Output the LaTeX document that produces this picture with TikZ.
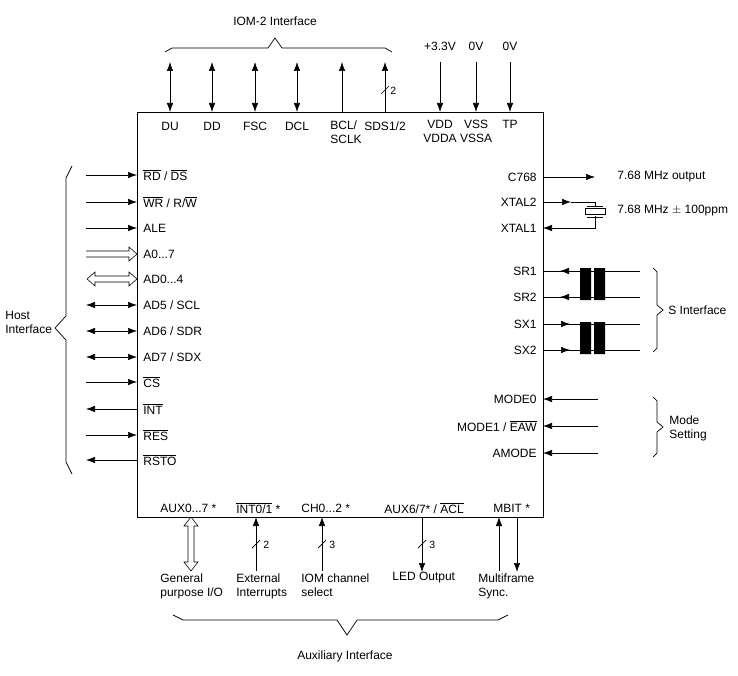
\documentclass[tikz,border=0pt]{standalone}
\usepackage{fontspec}
\setmainfont{Liberation Sans}
\usetikzlibrary{arrows.meta}
\newcommand{\olb}[1]{$\overline{\mbox{#1}}$}
\begin{document}
\begin{tikzpicture}[x=1pt,y=-1pt,
  every node/.style={font=\fontsize{12}{14}\selectfont,inner sep=0pt},
  tip/.style={-{Latex[length=9pt,width=6.5pt]}},
  tipb/.style={{Latex[length=9pt,width=6.5pt]}-{Latex[length=9pt,width=6.5pt]}},
  lab/.style={anchor=west},
  line width=0.7pt]
\useasboundingbox (0,0) rectangle (738,676);
% main box
\draw (137,112) rectangle (543,517);
% ---------- left (host) ----------
\foreach \y/\t/\k in {175/{\olb{RD} / \olb{DS}}/in, 202/{\olb{WR} / R/\olb{W}}/in, 228/ALE/in,
   305/{AD5 / SCL}/bi, 331/{AD6 / SDR}/bi, 357/{AD7 / SDX}/bi, 382/\olb{CS}/in, 409/\olb{INT}/out,
   435/\olb{RES}/in, 460/\olb{RSTO}/out}{
  \coordinate (L\y) at (86,\y); \coordinate (P\y) at (137,\y);
  \node[lab] (n\y) at (143,\y) {\t};
  \ifnum\pdfstrcmp{\k}{in}=0 \draw[tip] (L\y) -- (P\y);\fi
  \ifnum\pdfstrcmp{\k}{out}=0 \draw[tip] (P\y) -- (L\y);\fi
  \ifnum\pdfstrcmp{\k}{bi}=0 \draw[tipb] (L\y) -- (P\y);\fi
}
\node[lab] (a07) at (143,254) {A0...7};
\draw[line width=0.6pt] (86,251) -- (129,251) -- (129,247) -- (137,254) -- (129,261) -- (129,257) -- (86,257);
\node[lab] (ad04) at (143,279) {AD0...4};
\draw[line width=0.6pt] (95,276) -- (129,276) -- (129,272) -- (137,279) -- (129,286) -- (129,282) -- (95,282) -- (95,286) -- (87,279) -- (95,272) -- cycle;
\draw (72,166) -- (66,178) -- (66,316) -- (55,328) -- (66,340) -- (66,462) -- (72,474);
\node[anchor=west,align=left] (host) at (5,322) {Host\\Interface};
% ---------- top ----------
\foreach \x/\t/\k in {170/DU/bi, 212/DD/bi, 255/FSC/bi, 297/DCL/bi, 385/{SDS1/2}/up}{
  \coordinate (T\x) at (\x,62); \coordinate (B\x) at (\x,112);
  \node (t\x) at (\x,126) {\t};
  \ifnum\pdfstrcmp{\k}{bi}=0 \draw[tipb] (T\x) -- (B\x);\fi
  \ifnum\pdfstrcmp{\k}{up}=0 \draw[tip] (B\x) -- (T\x);\fi
}
\coordinate (T342) at (342,62); \coordinate (B342) at (342,112);
\draw[tip] (B342) -- (T342);
\node[anchor=north west,align=left] (bcl) at (330,120) {BCL/\\SCLK};
\draw (381,94) -- (389,86);
\node[lab,font=\fontsize{10.5}{12}\selectfont] (n2t) at (390,91) {2};
\foreach \x/\v/\t in {440/+3.3V/VDD\\VDDA, 476/0V/VSS\\VSSA, 510/0V/TP}{
  \coordinate (S\x) at (\x,62); \coordinate (E\x) at (\x,112);
  \draw[tip] (S\x) -- (E\x);
  \node (v\x) at (\x,46) {\v};
  \node[anchor=north,align=center] (p\x) at (\x,120) {\t};
}
\draw (165,52) -- (172,48) -- (268,48) -- (275,38) -- (282,48) -- (385,48) -- (392,52);
\node (iom) at (275,21) {IOM-2 Interface};
% ---------- right ----------
\node[anchor=east] (c768) at (537,177) {C768};
\coordinate (c768e) at (595,177);
\draw[tip] (543,177) -- (c768e);
\node[lab] (o768) at (617,177) {7.68 MHz output};
\node[anchor=east] (x2) at (537,202) {XTAL2};
\node[anchor=east] (x1) at (537,228) {XTAL1};
\draw[tip] (543,202) -- (571,202);
\draw (571,202) -- (595,202) -- (595,207);
\draw (595,216) -- (595,228) -- (571,228);
\draw[tip] (575,228) -- (543,228);
\draw[fill=white,line width=0.6pt] (585,208.5) rectangle (605,214.5);
\draw[line width=0.6pt] (587,206) -- (603,206) (587,217) -- (603,217);
\node[lab] (xt) at (617,211) {7.68 MHz $\pm$ 100ppm};
\foreach \y/\t/\k in {271/SR1/in, 297/SR2/in, 324/SX1/out, 350/SX2/out}{
  \node[anchor=east] (r\y) at (537,\y) {\t};
  \coordinate (R\y) at (640,\y);
  \draw (R\y) -- (543,\y);
  \ifnum\pdfstrcmp{\k}{in}=0 \draw[tip] (575,\y) -- (560,\y);\fi
  \ifnum\pdfstrcmp{\k}{out}=0 \draw[tip] (555,\y) -- (570,\y);\fi
}
\fill (580,268) rectangle (591,300) (594,268) rectangle (605,300);
\fill (580,322) rectangle (591,354) (594,322) rectangle (605,354);
\draw (653,268) -- (657,272) -- (657,305) -- (663,310) -- (657,315) -- (657,348) -- (653,352);
\node[lab] (si) at (668,310) {S Interface};
\foreach \y/\t in {399/MODE0, 426/{MODE1 / \olb{EAW}}, 453/AMODE}{
  \node[anchor=east] (m\y) at (537,\y) {\t};
  \coordinate (M\y) at (598,\y);
  \draw[tip] (M\y) -- (543,\y);
}
\draw (653,397) -- (657,401) -- (657,422) -- (663,427) -- (657,432) -- (657,453) -- (653,457);
\node[anchor=west,align=left] (ms) at (669,428) {Mode\\Setting};
% ---------- bottom ----------
\node[lab] (ax) at (160,508) {AUX0...7 *};
\node[lab] (in01) at (236,508) {\olb{INT0/1} *};
\node[lab] (ch) at (301,508) {CH0...2 *};
\node[lab] (a67) at (384,508) {AUX6/7* / \olb{ACL}};
\node[lab] (mb) at (493,508) {MBIT *};
\draw[line width=0.6pt] (188,526) -- (188,562) -- (184,562) -- (191,571) -- (198,562) -- (194,562) -- (194,526) -- (198,526) -- (191,517) -- (184,526) -- cycle;
\draw[tip] (256,571) -- (256,517);
\draw[tip] (322,571) -- (322,517);
\draw[tip] (422,517) -- (422,572);
\draw[tip] (499,571) -- (499,517);
\draw[tip] (517,517) -- (517,572);
\foreach \x/\n in {256/2, 322/3, 422/3}{
  \draw (\x-4,548) -- (\x+4,540);
  \node[lab,font=\fontsize{10.5}{12}\selectfont] at (\x+7,545) {\n};
}
\node[anchor=north west,align=left] (gp) at (160,573) {General\\purpose I/O};
\node[anchor=north west,align=left] (ei) at (236,573) {External\\Interrupts};
\node[anchor=north west,align=left] (ic) at (301,573) {IOM channel\\select};
\node[anchor=north west,align=left] (led) at (392,572) {LED Output};
\node[anchor=north west,align=left] (mf) at (478,573) {Multiframe\\Sync.};
\draw (173,615) -- (183,620) -- (337,620) -- (347,635) -- (357,620) -- (498,620) -- (508,615);
\node (aux) at (345,656) {Auxiliary Interface};
\end{tikzpicture}
\end{document}
